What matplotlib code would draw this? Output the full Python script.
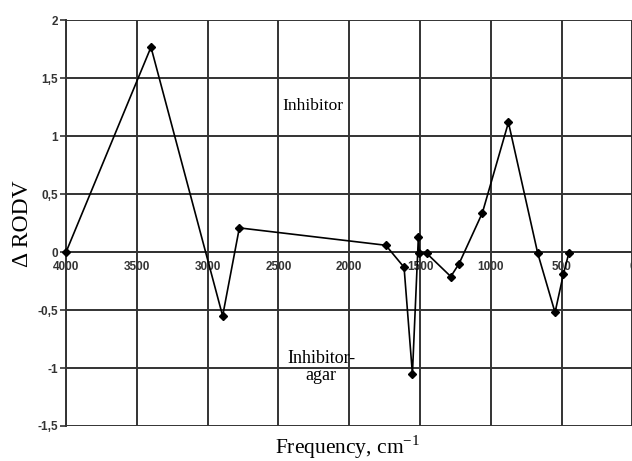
import numpy as np, matplotlib
matplotlib.use("Agg")
import matplotlib.pyplot as plt

# values
freq = [4000, 3400, 2894, 2776, 1742, 1613, 1554, 1512, 1505, 1453, 1283, 1225, 1060, 876, 669, 547, 488, 450]
d_rodv = [0.0, 1.77, -0.55, 0.21, 0.06, -0.13, -1.05, 0.13, -0.01, -0.01, -0.21, -0.10, 0.34, 1.12, -0.01, -0.52, -0.19, -0.01]
x_ticks = [4000, 3500, 3000, 2500, 2000, 1500, 1000, 500, 0]
y_ticks = [2, 1.5, 1, 0.5, 0, -0.5, -1, -1.5]
y_labels = ["2", "1,5", "1", "0,5", "0", "-0,5", "-1", "-1,5"]

fig = plt.figure(figsize=(6.32, 4.61), dpi=100, facecolor="white")
ax = fig.add_axes([66/632, 35/461, 566.5/632, 405.5/461])
ax.set_xlim(4000, 0); ax.set_ylim(-1.5, 2)
ax.set_xticks(x_ticks); ax.set_yticks(y_ticks)
ax.set_yticklabels(y_labels)
ax.grid(True, color="#333333", linewidth=1.4)
ax.set_axisbelow(True)
for s in ["top", "right"]: ax.spines[s].set_visible(False)
ax.spines["left"].set_color("#333333"); ax.spines["left"].set_linewidth(1.4)
ax.spines["bottom"].set_position(("data", 0)); ax.spines["bottom"].set_color("#333333"); ax.spines["bottom"].set_linewidth(1.4)
ax.tick_params(axis="x", length=0, pad=6, colors="#333333", labelsize=8.5)
ax.tick_params(axis="y", length=4, width=1.2, pad=2, colors="#333333", labelsize=8.5)
for lab in ax.get_xticklabels() + ax.get_yticklabels():
    lab.set_fontfamily("Liberation Sans"); lab.set_fontweight("bold"); lab.set_color("#333333")

ax.plot(freq, d_rodv, color="black", linewidth=1.2, marker="D", markersize=4, zorder=3, clip_on=False)

serif = "Liberation Serif"
ax.text(2256, 1.26, "Inhibitor", ha="center", va="center", fontsize=12.5, family=serif)
ax.text(2199, -0.99, "Inhibitor-\nagar", ha="center", va="center", fontsize=13, family=serif, linespacing=1.05)
fig.text(22/632, 1 - 224/461, "\u0394 RODV", rotation=90, ha="center", va="center", fontsize=17, family=serif)
fig.text(348/632, 1 - 447/461, "Frequency, cm$^{\\mathregular{-1}}$", ha="center", va="center", fontsize=15.5, family=serif)

plt.savefig("out.png", dpi=100, facecolor="white")
